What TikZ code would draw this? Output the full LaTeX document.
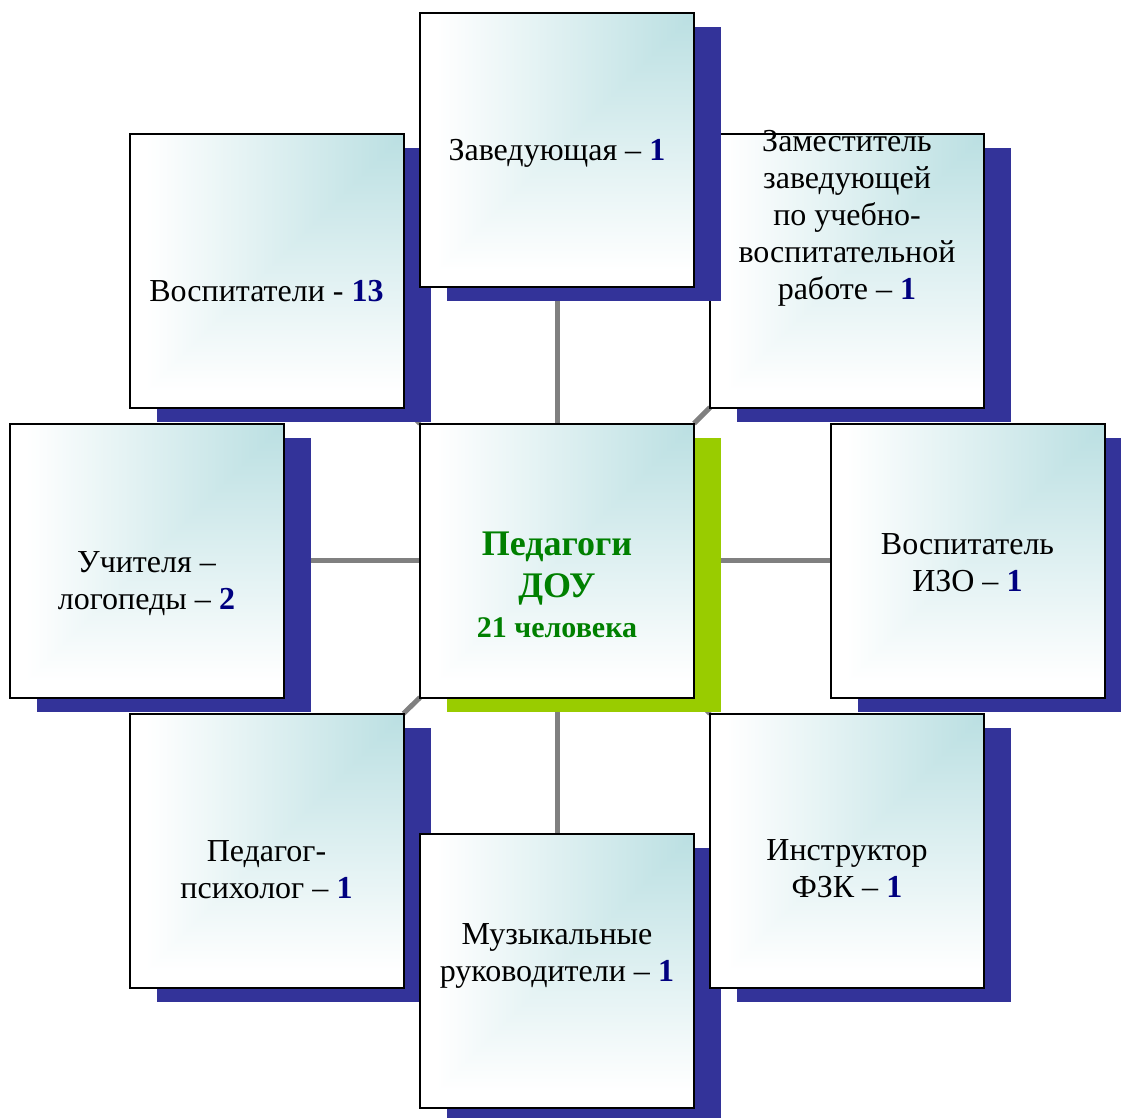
\documentclass[tikz,border=0pt]{standalone}
\usepackage{fontspec}
\setmainfont{Liberation Serif}
\pgfdeclarelayer{bg}
\pgfsetlayers{bg,main}
\definecolor{navyshadow}{RGB}{51,51,153}
\definecolor{greenshadow}{RGB}{153,204,0}
\definecolor{numc}{RGB}{0,0,128}
\definecolor{titlec}{RGB}{0,128,0}
\definecolor{linkc}{RGB}{128,128,128}
\pgfdeclarefunctionalshading{sqcorner}{\pgfpoint{-50bp}{-50bp}}{\pgfpoint{50bp}{50bp}}{}{
25 exch sub exch 25 exch sub 2 copy lt {exch} if pop
47 div dup 1 gt {pop 1} if dup 0 lt {pop 0} if
dup 0.27 mul 0.73 add exch
dup 0.125 mul 0.875 add exch
0.115 mul 0.885 add
}
\newcommand\bnum[1]{\textbf{\color{numc}#1}}
\tikzset{
  card/.style={rectangle, draw=black, line width=2pt, minimum width=274pt,
    minimum height=274pt, outer sep=0pt, inner sep=0pt, shading=sqcorner,
    preaction={fill=#1, transform canvas={xshift=27pt,yshift=-14pt}}},
  card/.default=navyshadow,
  txt/.style={font=\fontsize{32}{37}\selectfont, align=center, inner sep=0pt},
  link/.style={draw=linkc, line width=5pt}
}
\begin{document}
\begin{tikzpicture}[x=1pt,y=-1pt]
\useasboundingbox (0,0) rectangle (1121,1117);
\begin{pgfonlayer}{bg}
\fill[white] (0,0) rectangle (1121,1117);
\end{pgfonlayer}
% cards (drawing order gives overlaps)
\node[card] (TL) at (266.5,270.5) {};
\node[card] (TR) at (847,270.5) {};
\node[card] (T) at (557,150) {};
\node[card] (L) at (146.5,560.5) {};
\node[card=greenshadow] (C) at (557,560.5) {};
\node[card] (R) at (967.5,560.5) {};
\node[card] (BL) at (266.5,850.5) {};
\node[card] (B) at (557,970.5) {};
\node[card] (BR) at (847,850.5) {};
% texts
\node[txt] (tT) at (557,153.5) {Заведующая – \bnum{1}};
\node[txt] (tTR) at (847,218.5) {Заместитель\\заведующей\\по учебно-\\воспитательной\\работе – \bnum{1}};
\node[txt] (tTL) at (266.5,291) {Воспитатели - \bnum{13}};
\node[txt] (tL) at (146.5,583.5) {Учителя –\\логопеды – \bnum{2}};
\node[txt] (tR) at (967.5,563) {Воспитатель\\ИЗО – \bnum{1}};
\node[txt, font=\fontsize{36}{42}\selectfont\bfseries, text=titlec] (tC) at (557,584.5)
  {Педагоги\\ДОУ\\[-2pt]{\fontsize{30}{35}\selectfont 21 человека}};
\node[txt] (tBL) at (266.5,869.5) {Педагог-\\психолог – \bnum{1}};
\node[txt] (tBR) at (847,869) {Инструктор\\ФЗК – \bnum{1}};
\node[txt] (tB) at (557,956) {Музыкальные\\руководители – \bnum{1}};
% connectors
\begin{pgfonlayer}{bg}
\draw[link] (C.north) -- (T.south);
\draw[link] (C.south) -- (B.north);
\draw[link] (C.west) -- (L.east);
\draw[link] (C.east) -- (R.west);
\draw[link] (C.north west) -- (TL.south east);
\draw[link] (C.north east) -- (TR.south west);
\draw[link] (C.south west) -- (BL.north east);
\draw[link] (C.south east) -- (BR.north west);
\end{pgfonlayer}
\end{tikzpicture}
\end{document}
